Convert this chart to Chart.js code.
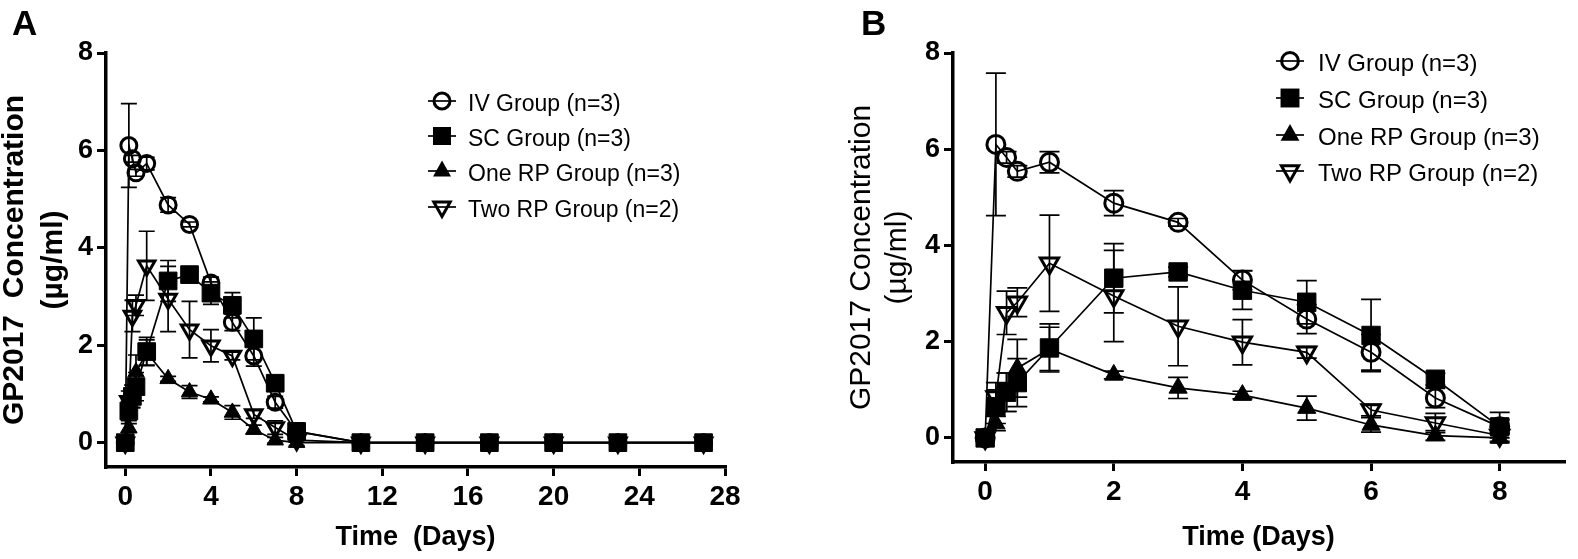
<!DOCTYPE html>
<html>
<head>
<meta charset="utf-8">
<script src="https://cdn.jsdelivr.net/npm/chart.js@4.4.1/dist/chart.umd.min.js"></script>
<style>
  html, body { margin:0; padding:0; background:#fff; }
  #wrap { position:relative; width:1578px; height:559px; overflow:hidden; background:#fff; font-family:"Liberation Sans", Arial, sans-serif; color:#000; }
  canvas { position:absolute; top:0; }
  .panel { position:absolute; font-weight:bold; font-size:35px; line-height:1; }
  .leg { position:absolute; white-space:nowrap; line-height:1; transform:translateY(-50%); }
  .sym { position:absolute; transform:translate(-50%,-50%); }
</style>
</head>
<body>
<div id="wrap">
  <canvas id="cA" width="790" height="559" style="left:0px;width:790px;height:559px"></canvas>
  <canvas id="cB" width="788" height="559" style="left:790px;width:788px;height:559px"></canvas>
  <div class="panel" style="left:12px;top:5px">A</div>
  <div class="panel" style="left:861px;top:5px">B</div>
  <div id="legA"></div>
  <div id="legB"></div>
</div>
<script>
// ---------- data ----------
const seriesNames = ['IV Group (n=3)', 'SC Group (n=3)', 'One RP Group (n=3)', 'Two RP Group (n=2)'];
const timesEarly = [0, 0.167, 0.333, 0.5, 1, 2, 3, 4, 5, 6, 7, 8];
const timesLate  = [11, 14, 17, 20, 23, 27];
const lateValues = [0, 0, 0, 0, 0, 0];
const lateErrors = [0, 0, 0, 0, 0, 0];

const ivMean  = [0, 6.10, 5.83, 5.54, 5.73, 4.88, 4.48, 3.28, 2.47, 1.78, 0.83, 0.23];
const scMean  = [0, 0.65, 0.95, 1.15, 1.87, 3.32, 3.45, 3.07, 2.82, 2.13, 1.22, 0.23];
const oneMean = [0, 0.30, 0.95, 1.45, 1.85, 1.31, 1.04, 0.89, 0.62, 0.27, 0.05, 0.00];
const twoMean = [0, 0.85, 2.60, 2.82, 3.63, 2.95, 2.32, 1.99, 1.78, 0.58, 0.31, 0.05];

// panel A error bars (smaller)
const ivErrA  = [0, 0.86, 0.07, 0.07, 0.13, 0.15, 0.05, 0.12, 0.17, 0.21, 0.12, 0.09];
const scErrA  = [0, 0.20, 0.23, 0.29, 0.29, 0.42, 0.06, 0.23, 0.26, 0.43, 0.07, 0.17];
const oneErrA = [0, 0.09, 0.23, 0.35, 0.26, 0.05, 0.13, 0.05, 0.14, 0.09, 0.06, 0.06];
const twoErrA = [0, 0.21, 0.32, 0.21, 0.71, 0.67, 0.58, 0.33, 0.08, 0.08, 0.14, 0.04];
// panel B error bars (larger)
const ivErrB  = [0, 1.48, 0.12, 0.12, 0.22, 0.26, 0.08, 0.20, 0.30, 0.37, 0.20, 0.15];
const scErrB  = [0, 0.35, 0.40, 0.50, 0.50, 0.72, 0.10, 0.40, 0.45, 0.75, 0.12, 0.30];
const oneErrB = [0, 0.15, 0.40, 0.60, 0.45, 0.08, 0.22, 0.08, 0.25, 0.15, 0.10, 0.10];
const twoErrB = [0, 0.30, 0.45, 0.30, 1.00, 0.95, 0.82, 0.47, 0.12, 0.12, 0.20, 0.05];

const yTicks  = [0, 2, 4, 6, 8];
const xTicksA = [0, 4, 8, 12, 16, 20, 24, 28];
const xTicksB = [0, 2, 4, 6, 8];

// ---------- helpers ----------
const FONT = '"Liberation Sans", Arial, sans-serif';
function pts(xs, ys) { return xs.map((x, i) => ({ x: x, y: ys[i] })); }

const errorBarPlugin = {
  id: 'errorBars',
  beforeDatasetsDraw(chart, args, opts) {
    const ctx = chart.ctx, xs = chart.scales.x, ys = chart.scales.y;
    const cap = opts.cap || 9;
    chart.data.datasets.forEach((ds, i) => {
      if (!chart.isDatasetVisible(i) || !ds.errors) return;
      ctx.save();
      ctx.strokeStyle = '#000';
      ctx.lineWidth = opts.lineWidth || 1.5;
      ds.data.forEach((p, j) => {
        const e = ds.errors[j];
        if (!e) return;
        const x = xs.getPixelForValue(p.x);
        const y1 = ys.getPixelForValue(p.y + e);
        const y2 = ys.getPixelForValue(p.y - e);
        ctx.beginPath();
        ctx.moveTo(x, y1); ctx.lineTo(x, y2);
        ctx.moveTo(x - cap, y1); ctx.lineTo(x + cap, y1);
        ctx.moveTo(x - cap, y2); ctx.lineTo(x + cap, y2);
        ctx.stroke();
      });
      ctx.restore();
    });
  }
};

function makeDatasets(times, means, errs, sz) {
  const styles = [
    { pointStyle: 'circle',   pointRadius: sz.circle, pointBorderWidth: 3,   pointBackgroundColor: 'rgba(0,0,0,0)', pointRotation: 0 },
    { pointStyle: 'rect',     pointRadius: sz.rect,   pointBorderWidth: 1,   pointBackgroundColor: '#000', pointRotation: 0 },
    { pointStyle: 'triangle', pointRadius: sz.tri,    pointBorderWidth: 1,   pointBackgroundColor: '#000', pointRotation: 0 },
    { pointStyle: 'triangle', pointRadius: sz.tri2,   pointBorderWidth: 3,   pointBackgroundColor: 'rgba(0,0,0,0)', pointRotation: 180 }
  ];
  return means.map((m, k) => Object.assign({
    label: seriesNames[k],
    data: pts(times, m),
    errors: errs[k],
    showLine: true,
    borderColor: '#000',
    borderWidth: 1.7,
    pointBorderColor: '#000',
    pointHoverRadius: 0,
    fill: false,
    tension: 0
  }, styles[k]));
}

function makeChart(id, cfg) {
  return new Chart(document.getElementById(id), {
    type: 'scatter',
    data: { datasets: cfg.datasets },
    plugins: [errorBarPlugin],
    options: {
      responsive: false,
      animation: false,
      devicePixelRatio: 1,
      layout: { padding: cfg.padding },
      plugins: {
        legend: { display: false },
        tooltip: { enabled: false },
        errorBars: { cap: cfg.cap, lineWidth: 1.7 }
      },
      scales: {
        x: {
          type: 'linear', min: cfg.xMin, max: cfg.xMax,
          afterBuildTicks: s => { s.ticks = cfg.xTicks.map(v => ({ value: v })); },
          afterFit: s => { s.height = cfg.xHeight; s.paddingLeft = 0; s.paddingRight = 0; },
          ticks: { color: '#000', padding: 4, maxRotation: 0, autoSkip: false,
                   font: { family: FONT, size: 28, weight: 'bold' } },
          grid: { drawOnChartArea: false, drawTicks: true, tickLength: 9, color: '#000', lineWidth: 3 },
          border: { display: true, color: '#000', width: 3.5 },
          title: { display: true, text: cfg.xTitle, color: '#000',
                   font: { family: FONT, size: 27, weight: 'bold', lineHeight: 1.2 },
                   padding: { top: 0, bottom: 5 } }
        },
        y: {
          type: 'linear', min: -0.5, max: 8,
          afterBuildTicks: s => { s.ticks = yTicks.map(v => ({ value: v })); },
          afterFit: s => { s.width = cfg.yWidth; s.paddingTop = 0; s.paddingBottom = 0; },
          ticks: { color: '#000', padding: 4,
                   font: { family: FONT, size: 27, weight: 'bold' } },
          grid: { drawOnChartArea: false, drawTicks: true, tickLength: 9, color: '#000', lineWidth: 3 },
          border: { display: true, color: '#000', width: 3.5 },
          title: { display: true, text: cfg.yTitle, color: '#000',
                   font: cfg.yTitleFont,
                   padding: { top: cfg.yTitlePad, bottom: 0 } }
        }
      }
    }
  });
}

// ---------- panel A ----------
const timesA = timesEarly.concat(timesLate);
makeChart('cA', {
  datasets: makeDatasets(timesA,
    [ivMean.concat(lateValues), scMean.concat(lateValues), oneMean.concat(lateValues), twoMean.concat(lateValues)],
    [ivErrA.concat(lateErrors), scErrA.concat(lateErrors), oneErrA.concat(lateErrors), twoErrA.concat(lateErrors)],
    { circle: 8, rect: 12.5, tri: 9.5, tri2: 9.5 }),
  padding: { left: 0, right: 65, top: 53, bottom: 0 },
  xMin: -0.9, xMax: 28, xTicks: xTicksA, xHeight: 92, yWidth: 106, cap: 8,
  xTitle: 'Time  (Days)',
  yTitle: ['GP2017  Concentration', '(µg/ml)'],
  yTitleFont: { family: FONT, size: 30, weight: 'bold', lineHeight: 1.28 },
  yTitlePad: -4
});

// ---------- panel B ----------
makeChart('cB', {
  datasets: makeDatasets(timesEarly,
    [ivMean, scMean, oneMean, twoMean],
    [ivErrB, scErrB, oneErrB, twoErrB],
    { circle: 9, rect: 13, tri: 10.5, tri2: 10.5 }),
  padding: { left: 0, right: 8, top: 53, bottom: 0 },
  xMin: -0.5, xMax: 9, xTicks: xTicksB, xHeight: 97, yWidth: 163, cap: 10,
  xTitle: 'Time (Days)',
  yTitle: ['GP2017 Concentration', '(µg/ml)'],
  yTitleFont: { family: FONT, size: 30, weight: 'normal', lineHeight: 1.2 },
  yTitlePad: 54
});

// ---------- legends (HTML) ----------
function symSVG(k, s) {
  const w = 30, h = 26, c = 13, m = 15;
  let shape = '';
  if (k === 0) shape = `<circle cx="${m}" cy="${c}" r="${8*s}" fill="none" stroke="#000" stroke-width="3"/>`;
  if (k === 1) shape = `<rect x="${m-9*s}" y="${c-9*s}" width="${18*s}" height="${18*s}" fill="#000"/>`;
  if (k === 2) shape = `<polygon points="${m},${c-10.5*s} ${m+9*s},${c+5.5*s} ${m-9*s},${c+5.5*s}" fill="#000"/>`;
  if (k === 3) shape = `<polygon points="${m},${c+9.5*s} ${m+8.2*s},${c-5*s} ${m-8.2*s},${c-5*s}" fill="none" stroke="#000" stroke-width="3"/>`;
  return `<svg width="${w}" height="${h}" viewBox="0 0 ${w} ${h}"><line x1="1" y1="${c}" x2="${w-1}" y2="${c}" stroke="#000" stroke-width="1.7"/>${shape}</svg>`;
}
function buildLegend(id, symX, textX, rows, fontSize, s) {
  const el = document.getElementById(id);
  let html = '';
  seriesNames.forEach((n, k) => {
    html += `<div class="sym" style="left:${symX}px;top:${rows[k]}px">${symSVG(k, s)}</div>`;
    html += `<div class="leg" style="left:${textX}px;top:${rows[k]}px;font-size:${fontSize}px">${n}</div>`;
  });
  el.innerHTML = html;
}
buildLegend('legA', 442, 468, [103, 138, 173, 209], 23, 1.0);
buildLegend('legB', 1290, 1318, [63, 100, 137, 173], 24, 1.05);
</script>
</body>
</html>
